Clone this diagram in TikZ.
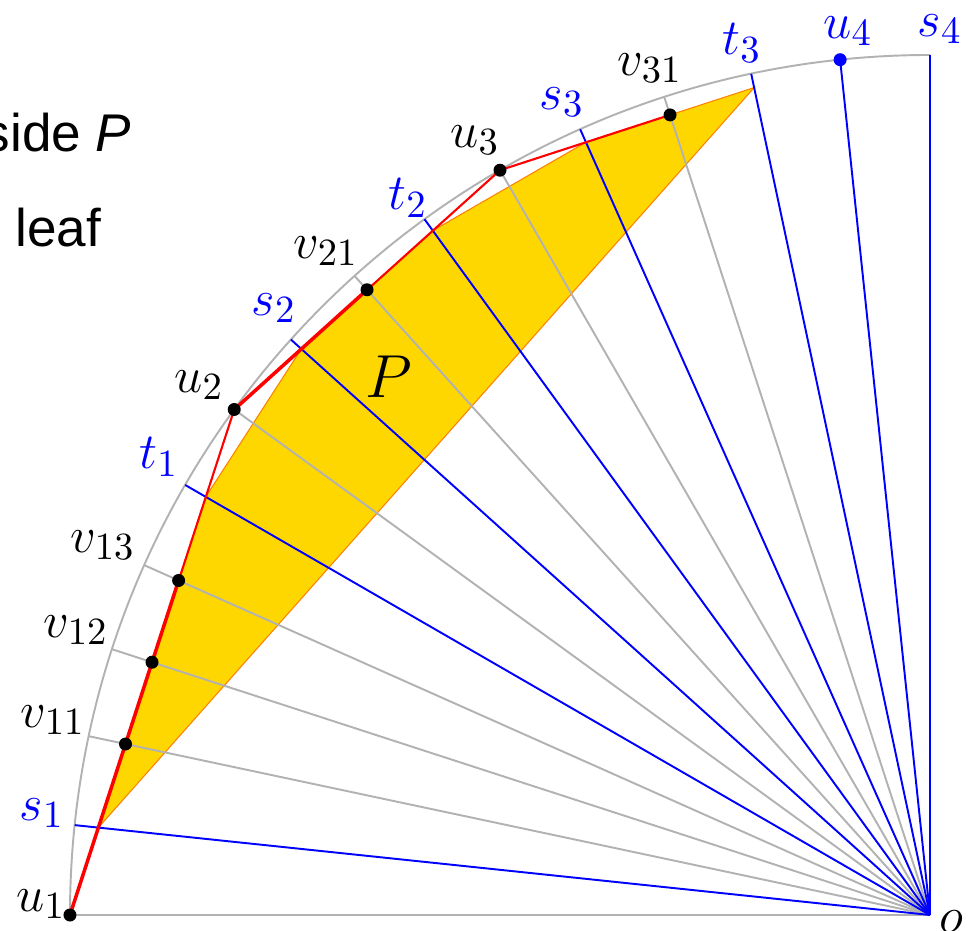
\documentclass[tikz,border=0pt]{standalone}
\usepackage{fontspec}
\newfontfamily\legendfont{Liberation Sans}
\definecolor{gold}{RGB}{255,215,0}

\begin{document}
\begin{tikzpicture}[
  grayray/.style={draw=gray!60, line width=0.55pt},
  blueray/.style={draw=blue, line width=0.55pt},
  lbl/.style={font=\fontsize{15.5}{18}\selectfont, inner sep=0pt},
  bluelbl/.style={lbl, text=blue},
  legend/.style={font=\legendfont\fontsize{15.1}{18}\selectfont, inner sep=0pt, anchor=base west}]
\useasboundingbox (-9.30,-0.15) rectangle (0.47,9.15);
\def\R{8.6}
% rays every 6 degrees
\coordinate (o) at (0,0);
\foreach \n/\a in {u1/180,s1/174,w11/168,w12/162,w13/156,t1/150,u2/144,s2/138,w21/132,t2/126,u3/120,s3/114,w31/108,t3/102,u4/96,s4/90}
  \coordinate (\n) at (\a:\R);
% points on the chain
\coordinate (v11) at (intersection of u1--u2 and o--w11);
\coordinate (v12) at (intersection of u1--u2 and o--w12);
\coordinate (v13) at (intersection of u1--u2 and o--w13);
\coordinate (v21) at (intersection of u2--u3 and o--w21);
\coordinate (v31) at (intersection of u3--u4 and o--w31);
% corners of P
\coordinate (pa) at (intersection of u1--u2 and o--s1);
\coordinate (pb) at (intersection of u1--u2 and o--t1);
\coordinate (pc) at (intersection of u2--u3 and o--s2);
\coordinate (pd) at (intersection of u2--u3 and o--t2);
\coordinate (pe) at (intersection of u3--u4 and o--s3);
\coordinate (pf) at (intersection of u3--u4 and o--t3);
\fill[gold, draw=orange, line width=0.3pt] (pa) -- (pb) -- (pc) -- (pd) -- (pe) -- (pf) -- cycle;
% rays and arc
\draw[grayray] (u1) arc (180:90:\R);
\foreach \n in {u1,w11,w12,w13,u2,w21,u3,w31}
  \draw[grayray] (\n) -- (o);
\foreach \n in {s1,t1,s2,t2,s3,t3,u4,s4}
  \draw[blueray] (\n) -- (o);
% chain
\draw[red, line width=0.6pt] (u1) -- (u2) -- (u3) -- (v31);
\draw[red, line width=1pt] (u1) -- (v13);
\draw[red, line width=1pt] (u2) -- (v21);
\foreach \n in {u1,v11,v12,v13,u2,v21,u3,v31}
  \fill (\n) circle (0.065);
\fill[blue] (u4) circle (0.065);
% labels
\node[lbl] (lu1) at (-8.89,0.11) {$u_1$};
\node[bluelbl] (ls1) at (-8.88,1.02) {$s_1$};
\node[lbl] (lv11) at (-8.77,1.95) {$v_{11}$};
\node[lbl] (lv12) at (-8.54,2.85) {$v_{12}$};
\node[lbl] (lv13) at (-8.27,3.70) {$v_{13}$};
\node[bluelbl] (lt1) at (-7.71,4.58) {$t_1$};
\node[lbl] (lu2) at (-7.31,5.30) {$u_2$};
\node[bluelbl] (ls2) at (-6.56,6.07) {$s_2$};
\node[lbl] (lv21) at (-6.04,6.64) {$v_{21}$};
\node[bluelbl] (lt2) at (-5.22,7.17) {$t_2$};
\node[lbl] (lu3) at (-4.55,7.75) {$u_3$};
\node[bluelbl] (ls3) at (-3.68,8.13) {$s_3$};
\node[lbl] (lv31) at (-2.80,8.47) {$v_{31}$};
\node[bluelbl] (lt3) at (-1.88,8.72) {$t_3$};
\node[bluelbl] (lu4) at (-0.82,8.84) {$u_4$};
\node[bluelbl] (ls4) at (0.10,8.86) {$s_4$};
\node[lbl] (lo) at (0.21,-0.07) {$o$};
\node[font=\fontsize{16}{19}\selectfont] (lp) at (-5.41,5.38) {$P$};
% legend
\node[legend] (side) at (-9.47,7.63) {side \textit{P}};
\node[legend] (leaf) at (-9.15,6.68) {leaf};
\end{tikzpicture}
\end{document}
